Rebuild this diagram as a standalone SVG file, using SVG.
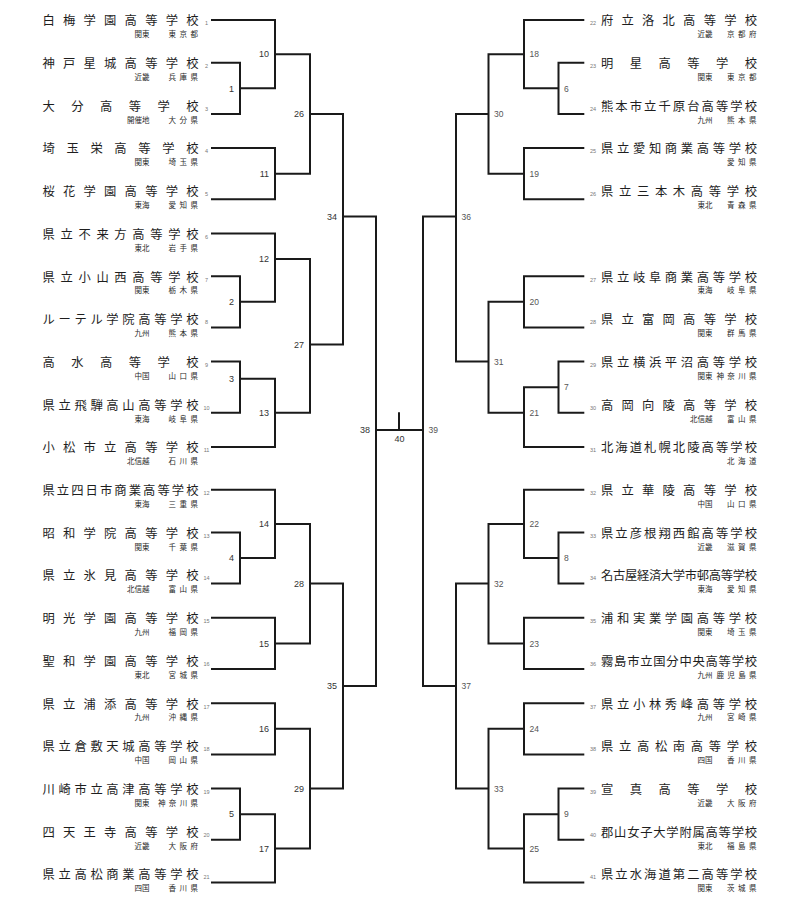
<svg xmlns="http://www.w3.org/2000/svg" width="800" height="922" viewBox="0 0 800 922">
<style>
.nm{font-family:"Noto Sans CJK JP","Noto Sans CJK SC",sans-serif;font-size:12.3px;fill:#1e1e1e}
.rg{font-family:"Noto Sans CJK JP","Noto Sans CJK SC",sans-serif;font-size:7.5px;fill:#2a2a2a;text-anchor:end}
.pf{font-family:"Noto Sans CJK JP","Noto Sans CJK SC",sans-serif;font-size:7.5px;fill:#2a2a2a;text-anchor:end}
.sd{font-family:"Liberation Sans",Arial,sans-serif;font-size:5.5px;fill:#777;text-anchor:middle}
.ml{font-family:"Liberation Sans",Arial,sans-serif;font-size:9px;fill:#333;text-anchor:end}
.mr{font-family:"Liberation Sans",Arial,sans-serif;font-size:8.5px;fill:#555;text-anchor:start}
.mc{font-family:"Liberation Sans",Arial,sans-serif;font-size:9px;fill:#333;text-anchor:middle}
.ln{fill:none;stroke:#1a1a1a;stroke-width:2}
</style>
<rect width="800" height="922" fill="#fff"/>
<g id="connectors" class="ln">
<path d="M211 62.7H240V113.9H211"/>
<path d="M211 20H275V88.3H240"/>
<path d="M211 148.1H275V199.3H211"/>
<path d="M275 54.2H310V173.7H275"/>
<path d="M211 276.2H240V327.4H211"/>
<path d="M211 233.5H275V301.8H240"/>
<path d="M211 361.6H240V412.8H211"/>
<path d="M240 378.7H275V447H211"/>
<path d="M275 259.1H310V412.8H275"/>
<path d="M310 113.9H343V344.5H310"/>
<path d="M211 532.4H240V583.6H211"/>
<path d="M211 489.7H275V558H240"/>
<path d="M211 617.8H275V669H211"/>
<path d="M275 523.9H310V643.4H275"/>
<path d="M211 703.2H275V754.4H211"/>
<path d="M211 788.6H240V839.8H211"/>
<path d="M240 814.2H275V882.5H211"/>
<path d="M275 728.8H310V848.4H275"/>
<path d="M310 583.6H343V788.6H310"/>
<path d="M343 216.4H376V686.1H343"/>
<path d="M376 429.9H423"/>
<path d="M399 429.9V412.3"/>
<path d="M584.3 62.7H558.5V113.9H584.3"/>
<path d="M584.3 20H524V88.3H558.5"/>
<path d="M584.3 148.1H524V199.3H584.3"/>
<path d="M524 54.2H488.5V173.7H524"/>
<path d="M584.3 276.2H524V327.4H584.3"/>
<path d="M584.3 361.6H558.5V412.8H584.3"/>
<path d="M558.5 387.2H524V447H584.3"/>
<path d="M524 301.8H488.5V412.8H524"/>
<path d="M488.5 113.9H456V361.6H488.5"/>
<path d="M584.3 532.4H558.5V583.6H584.3"/>
<path d="M584.3 489.7H524V558H558.5"/>
<path d="M584.3 617.8H524V669H584.3"/>
<path d="M524 523.9H488.5V643.4H524"/>
<path d="M584.3 703.2H524V754.4H584.3"/>
<path d="M584.3 788.6H558.5V839.8H584.3"/>
<path d="M558.5 814.2H524V882.5H584.3"/>
<path d="M524 728.8H488.5V848.4H524"/>
<path d="M488.5 583.6H456V788.6H488.5"/>
<path d="M456 216.4H423V686.1H456"/>
</g>
<g id="team-1"><text class="nm" x="42.5" y="25.3" textLength="156">白梅学園高等学校</text><text class="sd" x="206.5" y="25.3">1</text><text class="rg" x="149.5" y="37.2">関東</text><text class="pf" x="198" y="37.2" textLength="29.5">東京都</text></g>
<g id="team-2"><text class="nm" x="42.5" y="68" textLength="156">神戸星城高等学校</text><text class="sd" x="206.5" y="68">2</text><text class="rg" x="149.5" y="79.9">近畿</text><text class="pf" x="198" y="79.9" textLength="29.5">兵庫県</text></g>
<g id="team-3"><text class="nm" x="42.5" y="110.7" textLength="156">大分高等学校</text><text class="sd" x="206.5" y="110.7">3</text><text class="rg" x="149.5" y="122.6">開催地</text><text class="pf" x="198" y="122.6" textLength="29.5">大分県</text></g>
<g id="team-4"><text class="nm" x="42.5" y="153.4" textLength="156">埼玉栄高等学校</text><text class="sd" x="206.5" y="153.4">4</text><text class="rg" x="149.5" y="165.3">関東</text><text class="pf" x="198" y="165.3" textLength="29.5">埼玉県</text></g>
<g id="team-5"><text class="nm" x="42.5" y="196.1" textLength="156">桜花学園高等学校</text><text class="sd" x="206.5" y="196.1">5</text><text class="rg" x="149.5" y="208">東海</text><text class="pf" x="198" y="208" textLength="29.5">愛知県</text></g>
<g id="team-6"><text class="nm" x="42.5" y="238.8" textLength="156">県立不来方高等学校</text><text class="sd" x="206.5" y="238.8">6</text><text class="rg" x="149.5" y="250.7">東北</text><text class="pf" x="198" y="250.7" textLength="29.5">岩手県</text></g>
<g id="team-7"><text class="nm" x="42.5" y="281.5" textLength="156">県立小山西高等学校</text><text class="sd" x="206.5" y="281.5">7</text><text class="rg" x="149.5" y="293.4">関東</text><text class="pf" x="198" y="293.4" textLength="29.5">栃木県</text></g>
<g id="team-8"><text class="nm" x="42.5" y="324.2" textLength="156">ルーテル学院高等学校</text><text class="sd" x="206.5" y="324.2">8</text><text class="rg" x="149.5" y="336.1">九州</text><text class="pf" x="198" y="336.1" textLength="29.5">熊本県</text></g>
<g id="team-9"><text class="nm" x="42.5" y="366.9" textLength="156">高水高等学校</text><text class="sd" x="206.5" y="366.9">9</text><text class="rg" x="149.5" y="378.8">中国</text><text class="pf" x="198" y="378.8" textLength="29.5">山口県</text></g>
<g id="team-10"><text class="nm" x="42.5" y="409.6" textLength="156">県立飛騨高山高等学校</text><text class="sd" x="206.5" y="409.6">10</text><text class="rg" x="149.5" y="421.5">東海</text><text class="pf" x="198" y="421.5" textLength="29.5">岐阜県</text></g>
<g id="team-11"><text class="nm" x="42.5" y="452.3" textLength="156">小松市立高等学校</text><text class="sd" x="206.5" y="452.3">11</text><text class="rg" x="149.5" y="464.2">北信越</text><text class="pf" x="198" y="464.2" textLength="29.5">石川県</text></g>
<g id="team-12"><text class="nm" x="42.5" y="495" textLength="156">県立四日市商業高等学校</text><text class="sd" x="206.5" y="495">12</text><text class="rg" x="149.5" y="506.9">東海</text><text class="pf" x="198" y="506.9" textLength="29.5">三重県</text></g>
<g id="team-13"><text class="nm" x="42.5" y="537.7" textLength="156">昭和学院高等学校</text><text class="sd" x="206.5" y="537.7">13</text><text class="rg" x="149.5" y="549.6">関東</text><text class="pf" x="198" y="549.6" textLength="29.5">千葉県</text></g>
<g id="team-14"><text class="nm" x="42.5" y="580.4" textLength="156">県立氷見高等学校</text><text class="sd" x="206.5" y="580.4">14</text><text class="rg" x="149.5" y="592.3">北信越</text><text class="pf" x="198" y="592.3" textLength="29.5">富山県</text></g>
<g id="team-15"><text class="nm" x="42.5" y="623.1" textLength="156">明光学園高等学校</text><text class="sd" x="206.5" y="623.1">15</text><text class="rg" x="149.5" y="635">九州</text><text class="pf" x="198" y="635" textLength="29.5">福岡県</text></g>
<g id="team-16"><text class="nm" x="42.5" y="665.8" textLength="156">聖和学園高等学校</text><text class="sd" x="206.5" y="665.8">16</text><text class="rg" x="149.5" y="677.7">東北</text><text class="pf" x="198" y="677.7" textLength="29.5">宮城県</text></g>
<g id="team-17"><text class="nm" x="42.5" y="708.5" textLength="156">県立浦添高等学校</text><text class="sd" x="206.5" y="708.5">17</text><text class="rg" x="149.5" y="720.4">九州</text><text class="pf" x="198" y="720.4" textLength="29.5">沖縄県</text></g>
<g id="team-18"><text class="nm" x="42.5" y="751.2" textLength="156">県立倉敷天城高等学校</text><text class="sd" x="206.5" y="751.2">18</text><text class="rg" x="149.5" y="763.1">中国</text><text class="pf" x="198" y="763.1" textLength="29.5">岡山県</text></g>
<g id="team-19"><text class="nm" x="42.5" y="793.9" textLength="156">川崎市立高津高等学校</text><text class="sd" x="206.5" y="793.9">19</text><text class="rg" x="149.5" y="805.8">関東</text><text class="pf" x="198" y="805.8" textLength="40">神奈川県</text></g>
<g id="team-20"><text class="nm" x="42.5" y="836.6" textLength="156">四天王寺高等学校</text><text class="sd" x="206.5" y="836.6">20</text><text class="rg" x="149.5" y="848.5">近畿</text><text class="pf" x="198" y="848.5" textLength="29.5">大阪府</text></g>
<g id="team-21"><text class="nm" x="42.5" y="879.3" textLength="156">県立高松商業高等学校</text><text class="sd" x="206.5" y="879.3">21</text><text class="rg" x="149.5" y="891.2">四国</text><text class="pf" x="198" y="891.2" textLength="29.5">香川県</text></g>
<g id="team-22"><text class="sd" x="593" y="25.3">22</text><text class="nm" x="601" y="25.3" textLength="156">府立洛北高等学校</text><text class="rg" x="712.5" y="37.2">近畿</text><text class="pf" x="756.5" y="37.2" textLength="29.5">京都府</text></g>
<g id="team-23"><text class="sd" x="593" y="68">23</text><text class="nm" x="601" y="68" textLength="156">明星高等学校</text><text class="rg" x="712.5" y="79.9">関東</text><text class="pf" x="756.5" y="79.9" textLength="29.5">東京都</text></g>
<g id="team-24"><text class="sd" x="593" y="110.7">24</text><text class="nm" x="601" y="110.7" textLength="156">熊本市立千原台高等学校</text><text class="rg" x="712.5" y="122.6">九州</text><text class="pf" x="756.5" y="122.6" textLength="29.5">熊本県</text></g>
<g id="team-25"><text class="sd" x="593" y="153.4">25</text><text class="nm" x="601" y="153.4" textLength="156">県立愛知商業高等学校</text><text class="pf" x="756.5" y="165.3" textLength="29.5">愛知県</text></g>
<g id="team-26"><text class="sd" x="593" y="196.1">26</text><text class="nm" x="601" y="196.1" textLength="156">県立三本木高等学校</text><text class="rg" x="712.5" y="208">東北</text><text class="pf" x="756.5" y="208" textLength="29.5">青森県</text></g>
<g id="team-27"><text class="sd" x="593" y="281.5">27</text><text class="nm" x="601" y="281.5" textLength="156">県立岐阜商業高等学校</text><text class="rg" x="712.5" y="293.4">東海</text><text class="pf" x="756.5" y="293.4" textLength="29.5">岐阜県</text></g>
<g id="team-28"><text class="sd" x="593" y="324.2">28</text><text class="nm" x="601" y="324.2" textLength="156">県立富岡高等学校</text><text class="rg" x="712.5" y="336.1">関東</text><text class="pf" x="756.5" y="336.1" textLength="29.5">群馬県</text></g>
<g id="team-29"><text class="sd" x="593" y="366.9">29</text><text class="nm" x="601" y="366.9" textLength="156">県立横浜平沼高等学校</text><text class="rg" x="712.5" y="378.8">関東</text><text class="pf" x="756.5" y="378.8" textLength="40">神奈川県</text></g>
<g id="team-30"><text class="sd" x="593" y="409.6">30</text><text class="nm" x="601" y="409.6" textLength="156">高岡向陵高等学校</text><text class="rg" x="712.5" y="421.5">北信越</text><text class="pf" x="756.5" y="421.5" textLength="29.5">富山県</text></g>
<g id="team-31"><text class="sd" x="593" y="452.3">31</text><text class="nm" x="601" y="452.3" textLength="156">北海道札幌北陵高等学校</text><text class="pf" x="756.5" y="464.2" textLength="29.5">北海道</text></g>
<g id="team-32"><text class="sd" x="593" y="495">32</text><text class="nm" x="601" y="495" textLength="156">県立華陵高等学校</text><text class="rg" x="712.5" y="506.9">中国</text><text class="pf" x="756.5" y="506.9" textLength="29.5">山口県</text></g>
<g id="team-33"><text class="sd" x="593" y="537.7">33</text><text class="nm" x="601" y="537.7" textLength="156">県立彦根翔西館高等学校</text><text class="rg" x="712.5" y="549.6">近畿</text><text class="pf" x="756.5" y="549.6" textLength="29.5">滋賀県</text></g>
<g id="team-34"><text class="sd" x="593" y="580.4">34</text><text class="nm" x="601" y="580.4" textLength="156">名古屋経済大学市邨高等学校</text><text class="rg" x="712.5" y="592.3">東海</text><text class="pf" x="756.5" y="592.3" textLength="29.5">愛知県</text></g>
<g id="team-35"><text class="sd" x="593" y="623.1">35</text><text class="nm" x="601" y="623.1" textLength="156">浦和実業学園高等学校</text><text class="rg" x="712.5" y="635">関東</text><text class="pf" x="756.5" y="635" textLength="29.5">埼玉県</text></g>
<g id="team-36"><text class="sd" x="593" y="665.8">36</text><text class="nm" x="601" y="665.8" textLength="156">霧島市立国分中央高等学校</text><text class="rg" x="712.5" y="677.7">九州</text><text class="pf" x="756.5" y="677.7" textLength="40">鹿児島県</text></g>
<g id="team-37"><text class="sd" x="593" y="708.5">37</text><text class="nm" x="601" y="708.5" textLength="156">県立小林秀峰高等学校</text><text class="rg" x="712.5" y="720.4">九州</text><text class="pf" x="756.5" y="720.4" textLength="29.5">宮崎県</text></g>
<g id="team-38"><text class="sd" x="593" y="751.2">38</text><text class="nm" x="601" y="751.2" textLength="156">県立高松南高等学校</text><text class="rg" x="712.5" y="763.1">四国</text><text class="pf" x="756.5" y="763.1" textLength="29.5">香川県</text></g>
<g id="team-39"><text class="sd" x="593" y="793.9">39</text><text class="nm" x="601" y="793.9" textLength="156">宣真高等学校</text><text class="rg" x="712.5" y="805.8">近畿</text><text class="pf" x="756.5" y="805.8" textLength="29.5">大阪府</text></g>
<g id="team-40"><text class="sd" x="593" y="836.6">40</text><text class="nm" x="601" y="836.6" textLength="156">郡山女子大学附属高等学校</text><text class="rg" x="712.5" y="848.5">東北</text><text class="pf" x="756.5" y="848.5" textLength="29.5">福島県</text></g>
<g id="team-41"><text class="sd" x="593" y="879.3">41</text><text class="nm" x="601" y="879.3" textLength="156">県立水海道第二高等学校</text><text class="rg" x="712.5" y="891.2">関東</text><text class="pf" x="756.5" y="891.2" textLength="29.5">茨城県</text></g>
<g id="match-1"><text class="ml" x="234" y="91.5">1</text></g>
<g id="match-10"><text class="ml" x="269" y="57.4">10</text></g>
<g id="match-11"><text class="ml" x="269" y="176.9">11</text></g>
<g id="match-26"><text class="ml" x="304" y="117.1">26</text></g>
<g id="match-2"><text class="ml" x="234" y="305">2</text></g>
<g id="match-12"><text class="ml" x="269" y="262.3">12</text></g>
<g id="match-3"><text class="ml" x="234" y="381.9">3</text></g>
<g id="match-13"><text class="ml" x="269" y="416">13</text></g>
<g id="match-27"><text class="ml" x="304" y="347.7">27</text></g>
<g id="match-34"><text class="ml" x="337" y="219.6">34</text></g>
<g id="match-4"><text class="ml" x="234" y="561.2">4</text></g>
<g id="match-14"><text class="ml" x="269" y="527.1">14</text></g>
<g id="match-15"><text class="ml" x="269" y="646.6">15</text></g>
<g id="match-28"><text class="ml" x="304" y="586.8">28</text></g>
<g id="match-16"><text class="ml" x="269" y="732">16</text></g>
<g id="match-5"><text class="ml" x="234" y="817.4">5</text></g>
<g id="match-17"><text class="ml" x="269" y="851.6">17</text></g>
<g id="match-29"><text class="ml" x="304" y="791.8">29</text></g>
<g id="match-35"><text class="ml" x="337" y="689.3">35</text></g>
<g id="match-38"><text class="ml" x="370" y="433.1">38</text></g>
<g id="match-6"><text class="mr" x="564" y="91.5">6</text></g>
<g id="match-18"><text class="mr" x="529.5" y="57.4">18</text></g>
<g id="match-19"><text class="mr" x="529.5" y="176.9">19</text></g>
<g id="match-30"><text class="mr" x="494" y="117.1">30</text></g>
<g id="match-20"><text class="mr" x="529.5" y="305">20</text></g>
<g id="match-7"><text class="mr" x="564" y="390.4">7</text></g>
<g id="match-21"><text class="mr" x="529.5" y="416">21</text></g>
<g id="match-31"><text class="mr" x="494" y="364.8">31</text></g>
<g id="match-36"><text class="mr" x="461.5" y="219.6">36</text></g>
<g id="match-8"><text class="mr" x="564" y="561.2">8</text></g>
<g id="match-22"><text class="mr" x="529.5" y="527.1">22</text></g>
<g id="match-23"><text class="mr" x="529.5" y="646.6">23</text></g>
<g id="match-32"><text class="mr" x="494" y="586.8">32</text></g>
<g id="match-24"><text class="mr" x="529.5" y="732">24</text></g>
<g id="match-9"><text class="mr" x="564" y="817.4">9</text></g>
<g id="match-25"><text class="mr" x="529.5" y="851.6">25</text></g>
<g id="match-33"><text class="mr" x="494" y="791.8">33</text></g>
<g id="match-37"><text class="mr" x="461.5" y="689.3">37</text></g>
<g id="match-39"><text class="mr" x="428.5" y="433.1">39</text></g>
<g id="match-40"><text class="mc" x="399.5" y="441.5">40</text></g>
</svg>
